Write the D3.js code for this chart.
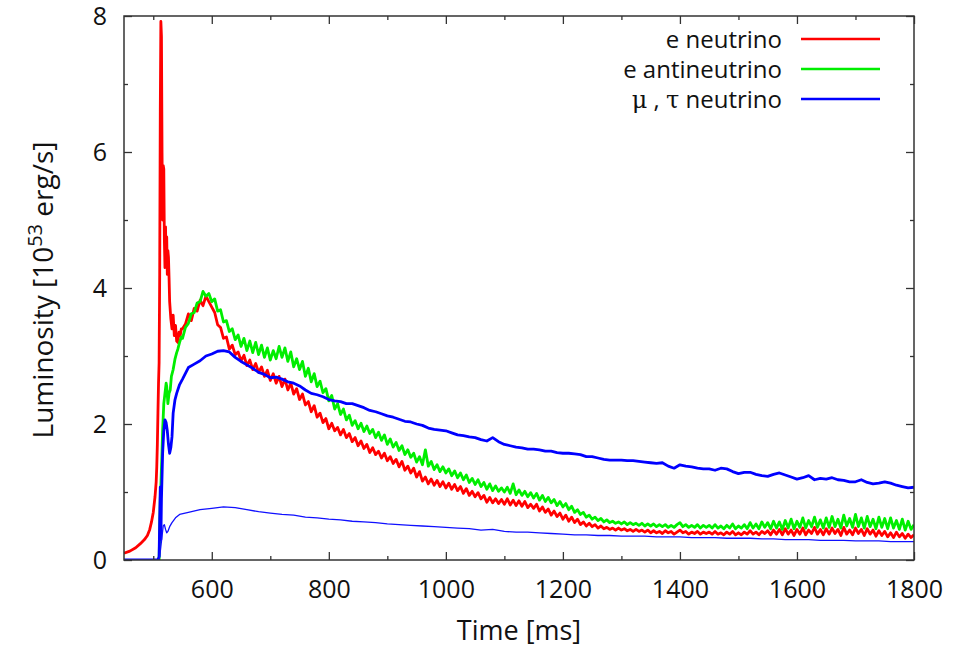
<!DOCTYPE html>
<html>
<head>
<meta charset="utf-8">
<script src="https://cdn.jsdelivr.net/npm/d3@7"></script>
<style>
	body { margin: 0; background: #fff; }
	text { font-family: "Open Sans", "Noto Sans", sans-serif; fill: #111; }
</style>
</head>
<body>
<div id="chart"></div>
<script>
// neutrino luminosity curves

// axis ticks
var xMajor = [600, 800, 1000, 1200, 1400, 1600, 1800];
var xMinor = [500, 700, 900, 1100, 1300, 1500, 1700];
var yMajor = [0, 2, 4, 6, 8];
var yMinor = [1, 3, 5, 7];

// legend labels
var seriesNames = ["e neutrino", "e antineutrino", "mu tau neutrino"];

// e neutrino: early part as [time, value], later every 5 ms from 550
var eNuEarly = [
	[450, 0.10], [460, 0.13], [470, 0.18], [478, 0.24], [485, 0.30], [490, 0.36], [494, 0.45],
	[497, 0.56], [500, 0.70], [503, 0.93], [505, 1.15], [506, 1.37], [507, 1.70], [508, 2.16],
	[509, 2.60], [510, 2.90], [511, 4.20], [512, 6.60], [513, 7.92], [514, 7.70], [515, 6.00],
	[516, 5.00], [517, 5.80], [518, 5.75], [519, 4.70], [520, 4.30], [521, 4.90], [522, 4.30],
	[523, 4.75], [524, 4.20], [525, 4.55], [526, 4.45], [527, 4.15], [528, 3.80], [530, 3.55],
	[532, 3.40], [534, 3.60], [536, 3.30], [538, 3.45], [540, 3.22], [542, 3.20], [544, 3.35],
	[546, 3.30], [548, 3.40]
];
var eNuLate = [
	3.40, 3.47, 3.62, 3.52, 3.70, 3.66, 3.82, 3.74, 3.88, 3.80, 3.72, 3.64, 3.46, 3.42, 3.26, 3.28, 3.10, 3.16, 3.02, 3.06,
	2.93, 3.01, 2.86, 2.94, 2.80, 2.89, 2.76, 2.84, 2.70, 2.79, 2.64, 2.74, 2.60, 2.70, 2.55, 2.66, 2.50, 2.60, 2.44, 2.52,
	2.36, 2.44, 2.28, 2.33, 2.18, 2.27, 2.10, 2.16, 2.02, 2.08, 1.93, 2.01, 1.90, 1.95, 1.84, 1.92, 1.80, 1.86, 1.74, 1.80,
	1.68, 1.75, 1.64, 1.70, 1.58, 1.65, 1.55, 1.60, 1.50, 1.57, 1.46, 1.52, 1.42, 1.48, 1.37, 1.45, 1.32, 1.38, 1.28, 1.35,
	1.22, 1.30, 1.16, 1.22, 1.12, 1.19, 1.10, 1.17, 1.08, 1.15, 1.06, 1.13, 1.04, 1.11, 1.02, 1.08, 0.98, 1.05, 0.95, 1.01,
	0.93, 0.99, 0.90, 0.95, 0.85, 0.92, 0.84, 0.90, 0.83, 0.89, 0.82, 0.90, 0.81, 0.88, 0.80, 0.87, 0.79, 0.86, 0.77, 0.82,
	0.76, 0.82, 0.72, 0.78, 0.70, 0.75, 0.66, 0.72, 0.64, 0.69, 0.60, 0.66, 0.57, 0.63, 0.55, 0.60, 0.52, 0.56, 0.50, 0.54,
	0.49, 0.52, 0.47, 0.50, 0.46, 0.48, 0.45, 0.47, 0.44, 0.47, 0.44, 0.46, 0.43, 0.45, 0.42, 0.45, 0.42, 0.44, 0.41, 0.44,
	0.40, 0.43, 0.40, 0.42, 0.39, 0.43, 0.40, 0.42, 0.38, 0.41, 0.44, 0.40, 0.42, 0.38, 0.41, 0.39, 0.42, 0.38, 0.41, 0.39,
	0.41, 0.38, 0.42, 0.38, 0.40, 0.37, 0.41, 0.38, 0.42, 0.37, 0.40, 0.37, 0.41, 0.38, 0.43, 0.38, 0.41, 0.37, 0.42, 0.39,
	0.43, 0.37, 0.44, 0.38, 0.45, 0.37, 0.46, 0.38, 0.44, 0.36, 0.45, 0.38, 0.47, 0.37, 0.44, 0.39, 0.48, 0.38, 0.45, 0.37,
	0.46, 0.38, 0.47, 0.39, 0.45, 0.36, 0.48, 0.38, 0.44, 0.37, 0.47, 0.39, 0.45, 0.36, 0.46, 0.38, 0.44, 0.35, 0.43, 0.36,
	0.42, 0.34, 0.40, 0.33, 0.41, 0.34, 0.39, 0.32, 0.38, 0.33, 0.37
];

// e antineutrino
var eAntiEarly = [
	[510, 0.00], [511, 0.40], [512, 0.90], [513, 1.10], [515, 1.60], [516, 1.90], [518, 2.30],
	[520, 2.45], [522, 2.60], [523, 2.55], [525, 2.30], [527, 2.45], [529, 2.50], [531, 2.70],
	[534, 2.80], [537, 2.95], [540, 3.05], [542, 3.10], [545, 3.20], [548, 3.28]
];
var eAntiLate = [
	3.26, 3.42, 3.48, 3.62, 3.64, 3.78, 3.80, 3.95, 3.88, 3.92, 3.80, 3.84, 3.66, 3.68, 3.50, 3.52, 3.36, 3.40, 3.24, 3.31,
	3.14, 3.26, 3.08, 3.22, 3.05, 3.20, 3.02, 3.16, 2.98, 3.12, 2.94, 3.08, 2.96, 3.14, 2.98, 3.12, 2.92, 3.06, 2.84, 2.96,
	2.80, 2.92, 2.70, 2.82, 2.62, 2.74, 2.55, 2.63, 2.46, 2.52, 2.34, 2.42, 2.22, 2.30, 2.14, 2.22, 2.06, 2.13, 1.98, 2.05,
	1.93, 2.01, 1.89, 1.97, 1.86, 1.92, 1.80, 1.88, 1.76, 1.84, 1.70, 1.78, 1.66, 1.73, 1.61, 1.68, 1.55, 1.62, 1.51, 1.57,
	1.44, 1.52, 1.40, 1.62, 1.38, 1.45, 1.33, 1.40, 1.30, 1.37, 1.28, 1.34, 1.24, 1.31, 1.21, 1.28, 1.18, 1.25, 1.14, 1.20,
	1.11, 1.18, 1.08, 1.14, 1.04, 1.12, 1.02, 1.09, 1.01, 1.06, 1.00, 1.07, 0.98, 1.12, 0.96, 1.03, 0.95, 1.01, 0.93, 0.99,
	0.91, 0.98, 0.88, 0.95, 0.86, 0.92, 0.84, 0.89, 0.80, 0.86, 0.78, 0.83, 0.74, 0.79, 0.70, 0.74, 0.67, 0.70, 0.63, 0.66,
	0.60, 0.63, 0.58, 0.61, 0.56, 0.59, 0.55, 0.57, 0.54, 0.56, 0.53, 0.56, 0.52, 0.55, 0.52, 0.54, 0.51, 0.54, 0.50, 0.53,
	0.50, 0.53, 0.49, 0.52, 0.49, 0.52, 0.48, 0.51, 0.48, 0.52, 0.55, 0.49, 0.52, 0.48, 0.51, 0.48, 0.52, 0.47, 0.51, 0.48,
	0.51, 0.47, 0.52, 0.47, 0.50, 0.46, 0.51, 0.47, 0.53, 0.46, 0.50, 0.47, 0.52, 0.46, 0.55, 0.47, 0.53, 0.46, 0.56, 0.48,
	0.55, 0.46, 0.57, 0.47, 0.56, 0.45, 0.58, 0.47, 0.60, 0.46, 0.57, 0.48, 0.62, 0.47, 0.58, 0.49, 0.63, 0.48, 0.59, 0.47,
	0.62, 0.48, 0.64, 0.49, 0.60, 0.47, 0.66, 0.50, 0.61, 0.48, 0.67, 0.49, 0.62, 0.47, 0.64, 0.49, 0.60, 0.46, 0.63, 0.48,
	0.61, 0.46, 0.62, 0.47, 0.58, 0.45, 0.60, 0.44, 0.57, 0.45, 0.52
];

// mu, tau neutrino (thick): later every 10 ms from 550
var muTauEarly = [
	[450, 0.00], [508, 0.00], [510, 0.05], [511, 0.60], [512, 1.07], [513, 0.30], [514, 0.90],
	[516, 1.57], [518, 1.90], [520, 2.06], [522, 2.02], [524, 1.90], [526, 1.70], [528, 1.57],
	[530, 1.65], [532, 1.81], [534, 2.16], [537, 2.35], [540, 2.45], [545, 2.58]
];
var muTauLate = [
	2.66, 2.83, 2.88, 2.93, 3.00, 3.03, 3.07, 3.08, 3.06, 2.98, 2.92, 2.87, 2.82, 2.76, 2.73, 2.68, 2.69, 2.66, 2.62, 2.60,
	2.56, 2.50, 2.45, 2.43, 2.40, 2.36, 2.34, 2.33, 2.30, 2.30, 2.27, 2.24, 2.20, 2.18, 2.15, 2.12, 2.10, 2.07, 2.04, 2.03,
	2.00, 1.98, 1.94, 1.92, 1.91, 1.90, 1.87, 1.84, 1.83, 1.81, 1.80, 1.77, 1.75, 1.80, 1.74, 1.70, 1.68, 1.66, 1.65, 1.63,
	1.63, 1.62, 1.60, 1.60, 1.58, 1.57, 1.57, 1.56, 1.55, 1.52, 1.52, 1.50, 1.48, 1.47, 1.47, 1.47, 1.46, 1.46, 1.45, 1.44,
	1.43, 1.42, 1.43, 1.38, 1.35, 1.40, 1.38, 1.37, 1.35, 1.34, 1.34, 1.32, 1.35, 1.34, 1.30, 1.27, 1.29, 1.29, 1.26, 1.24,
	1.23, 1.26, 1.28, 1.25, 1.22, 1.19, 1.21, 1.24, 1.18, 1.20, 1.19, 1.21, 1.18, 1.17, 1.15, 1.15, 1.18, 1.14, 1.12, 1.13,
	1.15, 1.13, 1.10, 1.08, 1.06, 1.07
];

// mu, tau second (thin) curve: later every 20 ms from 560
var muTauThinEarly = [
	[450, 0.00], [509, 0.00], [511, 0.05], [513, 0.20], [515, 0.35], [517, 0.50], [519, 0.52],
	[521, 0.45], [523, 0.40], [525, 0.42], [528, 0.49], [532, 0.55], [538, 0.62], [545, 0.67]
];
var muTauThinLate = [
	0.70, 0.74, 0.76, 0.78, 0.77, 0.74, 0.71, 0.69, 0.67, 0.66, 0.63, 0.62, 0.60, 0.59, 0.57, 0.56, 0.55, 0.53, 0.52, 0.51,
	0.50, 0.49, 0.48, 0.47, 0.46, 0.44, 0.45, 0.42, 0.41, 0.41, 0.40, 0.39, 0.38, 0.37, 0.37, 0.36, 0.36, 0.35, 0.35, 0.35,
	0.34, 0.34, 0.34, 0.33, 0.33, 0.33, 0.32, 0.32, 0.32, 0.31, 0.31, 0.30, 0.30, 0.30, 0.29, 0.29, 0.29, 0.28, 0.28, 0.28,
	0.27, 0.27, 0.27
];

function joinSeries(early, late, start, step) {
	var pts = early.slice();
	late.forEach(function(v, i) {
		pts.push([start + i * step, v]);
	});
	return pts;
}

function drawChart() {
	var w = 953,
		h = 649,
		left = 124,
		right = 914,
		top = 16,
		bottom = 560;

	var x = d3.scaleLinear().domain([450, 1800]).range([left, right]);
	var y = d3.scaleLinear().domain([0, 8]).range([bottom, top]);

	var svg = d3.select("#chart")
		.append("svg")
		.attr("width", w)
		.attr("height", h);

	svg.append("defs").append("clipPath")
		.attr("id", "plot-clip")
		.append("rect")
		.attr("x", left)
		.attr("y", top)
		.attr("width", right - left)
		.attr("height", bottom - top);

	var series = [
		{ pts: joinSeries(eNuEarly, eNuLate, 550, 5), color: "#ff0000", width: 2.8 },
		{ pts: joinSeries(eAntiEarly, eAntiLate, 550, 5), color: "#00ee00", width: 2.8 },
		{ pts: joinSeries(muTauEarly, muTauLate, 550, 10), color: "#0000ff", width: 2.8 },
		{ pts: joinSeries(muTauThinEarly, muTauThinLate, 560, 20), color: "#1010ff", width: 1.3 }
	];

	var line = d3.line()
		.x(function(d) { return x(d[0]); })
		.y(function(d) { return y(d[1]); });

	svg.append("g")
		.attr("clip-path", "url(#plot-clip)")
		.selectAll("path")
		.data(series)
		.enter().append("path")
		.attr("d", function(d) { return line(d.pts); })
		.attr("fill", "none")
		.attr("stroke", function(d) { return d.color; })
		.attr("stroke-width", function(d) { return d.width; })
		.attr("stroke-linejoin", "round");

	// axes, ticks point inward on all four sides
	function styleAxis(g) {
		g.select(".domain").remove();
		g.selectAll("line").attr("stroke", "#333").attr("stroke-width", 1.3);
		g.selectAll("text")
			.attr("font-family", "'Open Sans', 'Noto Sans', sans-serif")
			.attr("font-size", "25px")
			.attr("fill", "#111");
	}

	svg.append("g")
		.attr("transform", "translate(0," + bottom + ")")
		.call(d3.axisBottom(x).tickValues(xMajor).tickSize(-8).tickPadding(20).tickFormat(d3.format("d")))
		.call(styleAxis);
	svg.append("g")
		.attr("transform", "translate(0," + bottom + ")")
		.call(d3.axisBottom(x).tickValues(xMinor).tickSize(-4).tickFormat(""))
		.call(styleAxis);
	svg.append("g")
		.attr("transform", "translate(0," + top + ")")
		.call(d3.axisTop(x).tickValues(xMajor).tickSize(-8).tickFormat(""))
		.call(styleAxis);
	svg.append("g")
		.attr("transform", "translate(0," + top + ")")
		.call(d3.axisTop(x).tickValues(xMinor).tickSize(-4).tickFormat(""))
		.call(styleAxis);

	svg.append("g")
		.attr("transform", "translate(" + left + ",0)")
		.call(d3.axisLeft(y).tickValues(yMajor).tickSize(-8).tickPadding(17).tickFormat(d3.format("d")))
		.call(styleAxis);
	svg.append("g")
		.attr("transform", "translate(" + left + ",0)")
		.call(d3.axisLeft(y).tickValues(yMinor).tickSize(-4).tickFormat(""))
		.call(styleAxis);
	svg.append("g")
		.attr("transform", "translate(" + right + ",0)")
		.call(d3.axisRight(y).tickValues(yMajor).tickSize(-8).tickFormat(""))
		.call(styleAxis);
	svg.append("g")
		.attr("transform", "translate(" + right + ",0)")
		.call(d3.axisRight(y).tickValues(yMinor).tickSize(-4).tickFormat(""))
		.call(styleAxis);

	svg.append("rect")
		.attr("x", left)
		.attr("y", top)
		.attr("width", right - left)
		.attr("height", bottom - top)
		.attr("fill", "none")
		.attr("stroke", "#333")
		.attr("stroke-width", 1.5);

	// axis titles
	svg.append("text")
		.attr("x", 519)
		.attr("y", 640)
		.attr("text-anchor", "middle")
		.attr("font-size", "27px")
		.text("Time [ms]");

	var yTitle = svg.append("text")
		.attr("transform", "translate(53," + 290 + ") rotate(-90)")
		.attr("text-anchor", "middle")
		.attr("font-size", "28px");
	yTitle.append("tspan").text("Luminosity [10");
	yTitle.append("tspan").attr("font-size", "20px").attr("dy", "-11").text("53");
	yTitle.append("tspan").attr("dy", "11").text(" erg/s]");

	// legend
	var legendY = [39, 69, 99];
	var legend = svg.append("g");
	legend.selectAll("line")
		.data(series.slice(0, 3))
		.enter().append("line")
		.attr("x1", 801)
		.attr("x2", 880)
		.attr("y1", function(d, i) { return legendY[i]; })
		.attr("y2", function(d, i) { return legendY[i]; })
		.attr("stroke", function(d) { return d.color; })
		.attr("stroke-width", 2.6);

	legend.append("text").attr("x", 782).attr("y", legendY[0] + 9)
		.attr("text-anchor", "end").attr("font-size", "24px").text(seriesNames[0]);
	legend.append("text").attr("x", 782).attr("y", legendY[1] + 9)
		.attr("text-anchor", "end").attr("font-size", "24px").text(seriesNames[1]);

	var muLabel = legend.append("text").attr("x", 782).attr("y", legendY[2] + 9)
		.attr("text-anchor", "end").attr("font-size", "24px");
	muLabel.append("tspan").style("font-family", "'DejaVu Serif', 'Liberation Serif', serif").text("\u03bc");
	muLabel.append("tspan").text(" , ");
	muLabel.append("tspan").style("font-family", "'DejaVu Serif', 'Liberation Serif', serif").text("\u03c4");
	muLabel.append("tspan").text(" neutrino");
}

drawChart();
</script>
</body>
</html>
